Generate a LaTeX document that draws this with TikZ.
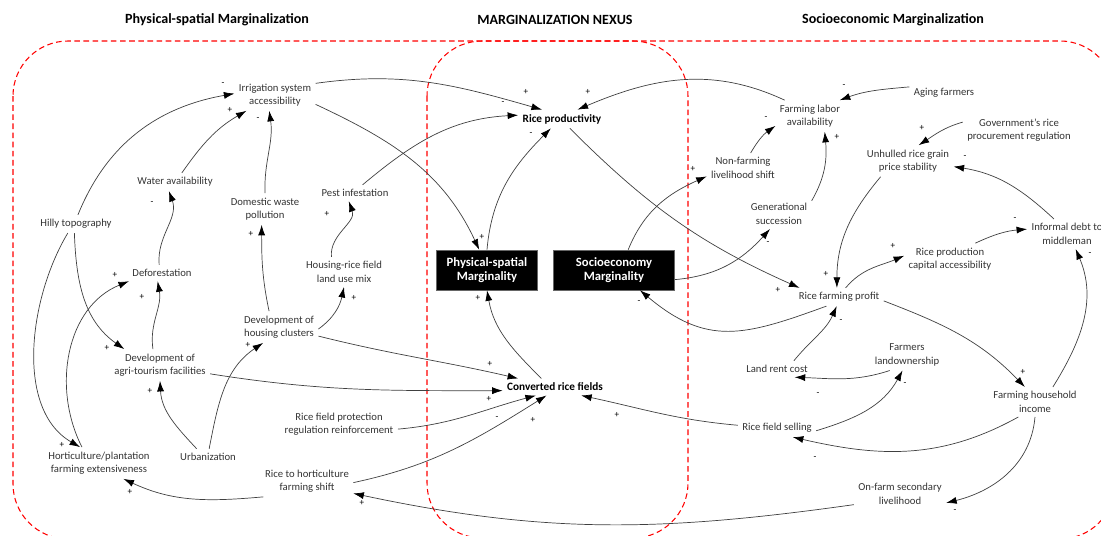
\documentclass[tikz,border=0pt]{standalone}
\usepackage{fontspec}
\setmainfont{Carlito}
\usetikzlibrary{arrows.meta, positioning}

\begin{document}
\begin{tikzpicture}[
    x=0.025cm, y=-0.025cm,
    var/.style={align=center, font=\fontsize{7.6}{9.6}\selectfont, text=black!80, inner sep=3pt},
    key/.style={align=center, font=\fontsize{8}{9.6}\selectfont\bfseries, inner sep=3pt},
    mbox/.style={rectangle, fill=black, draw=black!60, text=white, align=center,
                 font=\fontsize{9}{10}\selectfont\bfseries, minimum height=1cm},
    title/.style={font=\fontsize{10}{12}\selectfont\bfseries},
    frame/.style={draw=red, dash pattern=on 4pt off 2.5pt, line width=0.75pt,
                  rounded corners=1.375cm},
    arr/.style={-{Latex[length=7.5pt,width=5pt,color=black]}, draw=black!75, line width=0.5pt},
    sign/.style={font=\fontsize{6.5}{6.5}\selectfont, inner sep=0pt},
]
\useasboundingbox (0,0) rectangle (1101,536);
\clip (0,0) rectangle (1101,536);

\draw[frame] (13,41) rectangle (1115,539);
\draw[frame] (427,41) rectangle (688,538);

\node[title] (tps) at (217,20) {Physical-spatial Marginalization};
\node[title] (tnx) at (555,20) {MARGINALIZATION NEXUS};
\node[title] (tse) at (893,20) {Socioeconomic Marginalization};

\node[var] (irr)   at (275,95)  {Irrigation system\\accessibility};
\node[var] (wat)   at (175,182) {Water availability};
\node[var] (dom)   at (265,209) {Domestic waste\\pollution};
\node[var] (pest)  at (355,193) {Pest infestation};
\node[var] (hilly) at (76,224)  {Hilly topography};
\node[var] (def)   at (162,273) {Deforestation};
\node[var] (hous)  at (344,272) {Housing-rice field\\land use mix};
\node[var] (dhc)   at (279,327) {Development of\\housing clusters};
\node[var] (dat)   at (160,365) {Development of\\agri-tourism facilities};
\node[var] (urb)   at (208,457) {Urbanization};
\node[var] (hort)  at (99,463)  {Horticulture/plantation\\farming extensiveness};
\node[var] (rfp)   at (339,424) {Rice field protection\\regulation reinforcement};
\node[var] (rhs)   at (307,481) {Rice to horticulture\\farming shift};

\node[key] (rp)  at (562,119) {Rice productivity};
\node[mbox, minimum width=2.525cm] (psm) at (487,270) {Physical-spatial\\Marginality};
\node[mbox, minimum width=3.025cm] (sem) at (614,270) {Socioeconomy\\Marginality};
\node[key] (crf) at (555,387) {Converted rice fields};

\node[var] (fla)    at (810,116)  {Farming labor\\availability};
\node[var] (age)    at (944,93)   {Aging farmers};
\node[var] (gov)    at (1019,130) {Government's rice\\procurement regulation};
\node[var] (unh)    at (908,161)  {Unhulled rice grain\\price stability};
\node[var] (nfl)    at (743,168)  {Non-farming\\livelihood shift};
\node[var] (gen)    at (779,214)  {Generational\\succession};
\node[var] (rpc)    at (950,259)  {Rice production\\capital accessibility};
\node[var] (inf)    at (1067,234) {Informal debt to\\middleman};
\node[var] (rfprof) at (839,297)  {Rice farming profit};
\node[var] (lrc)    at (777,369)  {Land rent cost};
\node[var] (fl)     at (907,355)  {Farmers\\landownership};
\node[var] (rfs)    at (777,428)  {Rice field selling};
\node[var] (fhi)    at (1035,402) {Farming household\\income};
\node[var] (ofs)    at (900,494)  {On-farm secondary\\livelihood};

\draw[arr] (hilly.78) to[out=68, in=190] (irr.178);
\draw[arr] (wat.53) to[out=55, in=210] (irr.209);
\draw[arr] (dom.north) to[out=92, in=-82] (irr.250);
\draw[arr] (def.109) to[out=95, in=-70] (wat.236);
\draw[arr] (dhc.122) to[out=102, in=-90] (dom.258);
\draw[arr] (hous.130) to[out=95, in=-70] (pest.233);
\draw[arr] (pest.47) to[out=40, in=183] (rp.175);
\draw[arr] (irr.16) to[out=8, in=164] (rp.155);
\draw[arr] (irr.-13) to[out=-25, in=115] (psm.111);
\draw[arr] (psm.north) to[out=85, in=225] (rp.220);
\draw[arr] (rp.-50) to[out=-45, in=156] (rfprof.167);
\draw[arr] (fla.148) to[out=155, in=23] (rp.31);
\draw[arr] (age.170) to[out=185, in=20] (fla.28);
\draw[arr] (nfl.63) to[out=60, in=215] (fla.196);
\draw[arr] (gen.22) to[out=60, in=-85] (fla.-47);
\draw[arr] (gov.172) to[out=196, in=33] (unh.56);
\draw[arr] (inf.131) to[out=137, in=-9] (unh.-7);
\draw[arr] (unh.210) to[out=230, in=90] (rfprof.103);
\draw[arr] (rfprof.54) to[out=50, in=203] (rpc.176);
\draw[arr] (rpc.32) to[out=25, in=185] (inf.173);
\draw[arr] (fhi.40) to[out=58, in=-67] (inf.-60);
\draw[arr] (rfprof.-5) to[out=-21, in=134] (fhi.124);
\draw[arr] (rfprof.216) to[out=200, in=-40, looseness=1.2] (sem.-38);
\draw[arr] (lrc.26) to[out=51, in=246] (rfprof.256);
\draw[arr] (fl.222) to[out=198, in=-2] (lrc.-25);
\draw[arr] (rfs.-4) to[out=17, in=241] (fl.254);
\draw[arr] (fhi.222) to[out=209, in=-13] (rfs.-30);
\draw[arr] (fhi.south) to[out=-95, in=14] (ofs.-11);
\draw[arr] (ofs.193) to[out=188, in=-12] (rhs.-15);
\draw[arr] (rhs.200) to[out=185, in=-25] (hort.-33);
\draw[arr] (rhs.-2) to[out=12, in=212] (crf.225);
\draw[arr] (rfp.-5) to[out=5, in=195] (crf.204);
\draw[arr] (dat.-10) to[out=-9, in=180] (crf.184);
\draw[arr] (dhc.-13) to[out=-14, in=167] (crf.167);
\draw[arr] (crf.148) to[out=135, in=-80] (psm.south);
\draw[arr] (rfs.176) to[out=175, in=-12] (crf.-18);
\draw[arr] (sem.55) to[out=68, in=204] (nfl.193);
\draw[arr] (sem.-9) to[out=5, in=228] (gen.239);
\draw[arr] (hilly.260) to[out=-88, in=145] (dat.156);
\draw[arr] (dat.114) to[out=98, in=-80] (def.242);
\draw[arr] (hort.137) to[out=117, in=202] (def.194);
\draw[arr] (hilly.228) to[out=239, in=150, looseness=0.9] (hort.140);
\draw[arr] (urb.144) to[out=133, in=-87] (dat.south);
\draw[arr] (urb.82) to[out=79, in=214] (dhc.225);
\draw[arr] (dhc.-3) to[out=36, in=258] (hous.south);

\foreach \s/\x/\y [count=\i] in {-/223/84, +/230/110, -/258/119, -/152/203, +/251/234,
    +/327/214, -/503/103, +/526/92, +/482/237, -/531/134, +/778/290, +/588/92,
    -/844/86, -/766/118, +/837/137, +/922/128, -/965/157, +/826/274, +/893/246,
    -/1015/219, -/1090/254, +/1023/372, -/639/302, -/841/321, -/818/394, -/905/384,
    -/815/458, -/955/511, +/362/503, +/130/492, +/533/420, -/497/418, +/489/399,
    +/490/364, +/478/298, +/617/415, +/693/169, -/768/243, +/107/348, +/142/297,
    +/115/275, +/62/445, +/150/391, +/248/345, +/354/298}
  \node[sign] (sg\i) at (\x,\y) {\s};
\end{tikzpicture}
\end{document}
